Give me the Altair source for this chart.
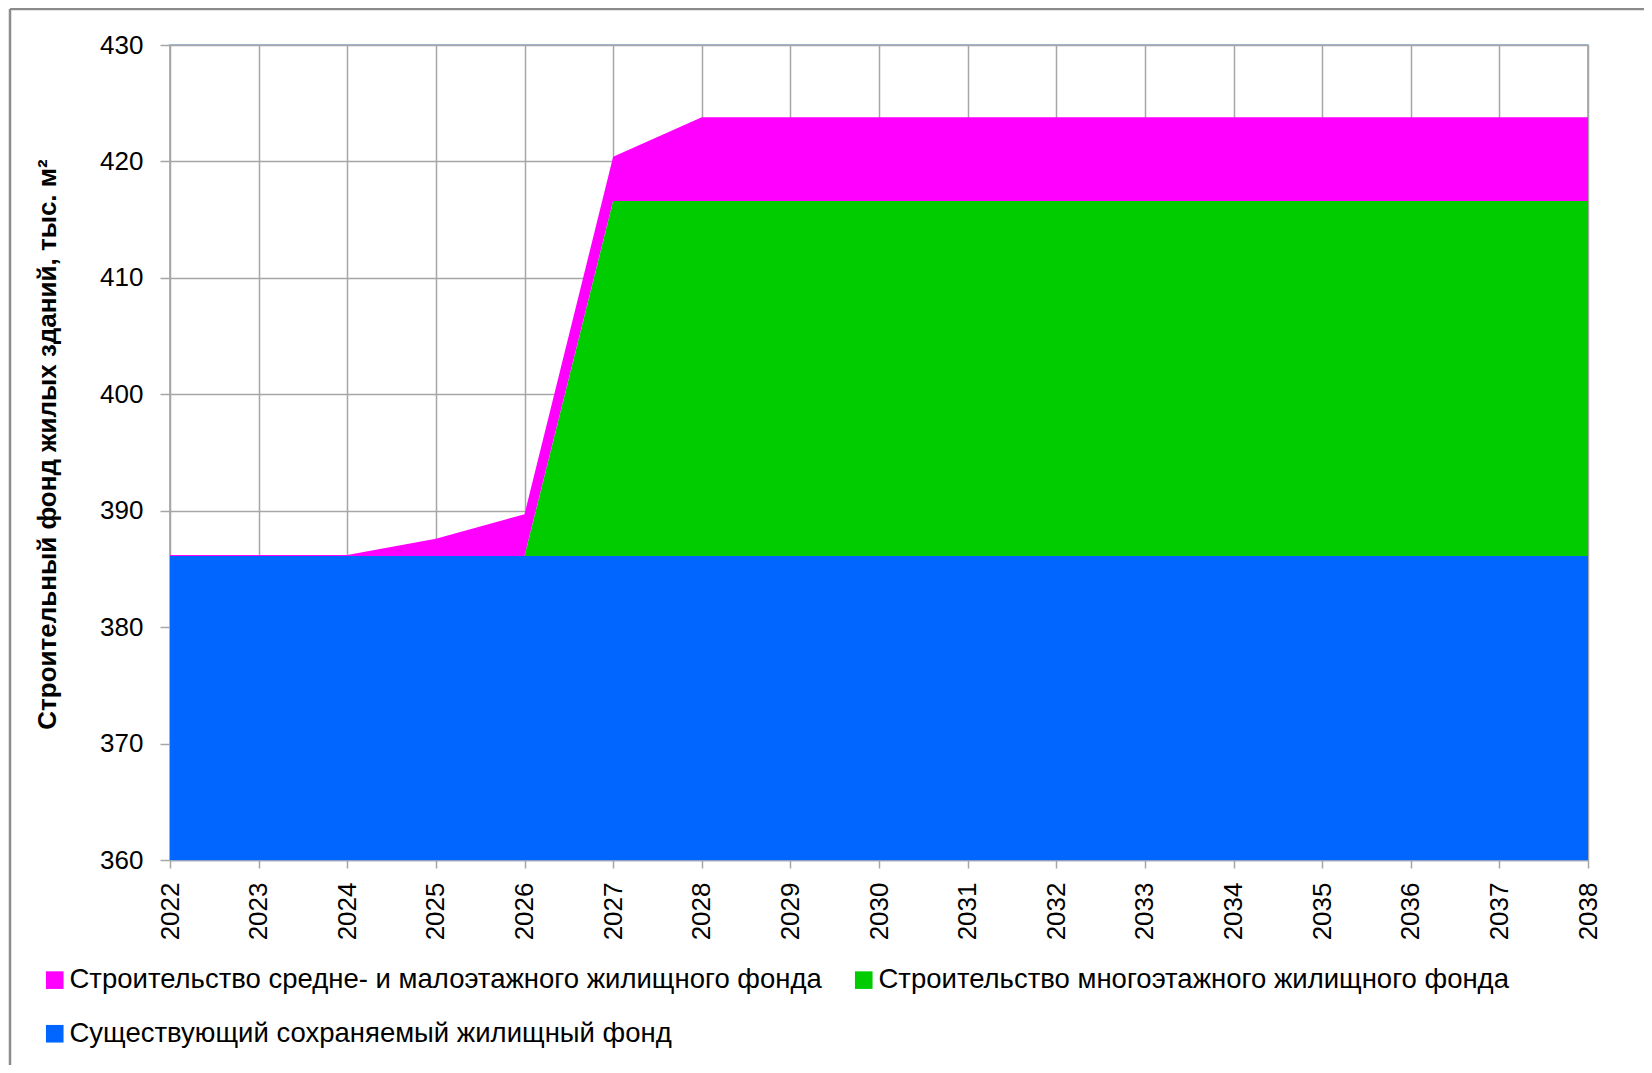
import altair as alt
import pandas as pd

years = list(range(2022, 2039))
existing = [386.1] * 17
multi_storey = [0, 0, 0, 0, 0, 30.5, 30.5, 30.5, 30.5, 30.5, 30.5, 30.5, 30.5, 30.5, 30.5, 30.5, 30.5]
mid_low = [0.1, 0.1, 0.1, 1.5, 3.6, 3.8, 7.2, 7.2, 7.2, 7.2, 7.2, 7.2, 7.2, 7.2, 7.2, 7.2, 7.2]

series_names = [
    "Строительство средне- и малоэтажного жилищного фонда",
    "Строительство многоэтажного жилищного фонда",
    "Существующий сохраняемый жилищный фонд",
]
series_colors = ["#FF00FF", "#00CC00", "#0066FF"]
stack_rank = [3, 2, 1]
y_ticks = [360, 370, 380, 390, 400, 410, 420, 430]
y_title = "Строительный фонд жилых зданий, тыс. м²"

rows = []
for name, vals, rank in zip(series_names, [mid_low, multi_storey, existing], stack_rank):
    for yr, v in zip(years, vals):
        rows.append({"year": yr, "value": v, "series": name, "ord": rank})
df = pd.DataFrame(rows)

FONT = "Liberation Sans"

area = alt.Chart(df).mark_area(clip=True, opacity=1).encode(
    x=alt.X(
        "year:Q",
        scale=alt.Scale(domain=[years[0], years[-1]], nice=False, zero=False),
        axis=alt.Axis(
            values=years, format="d", labelAngle=270, title=None, grid=True,
            tickSize=8, labelPadding=14, labelFontSize=26, labelFont=FONT,
            labelColor="#000000", gridColor="#A6A6A6", gridWidth=1.5,
            tickColor="#A6A6A6", tickWidth=1.5, domainColor="#8FA3C0", domainWidth=1.5,
        ),
    ),
    y=alt.Y(
        "value:Q",
        stack="zero",
        scale=alt.Scale(domain=[y_ticks[0], y_ticks[-1]], nice=False, zero=False),
        axis=alt.Axis(
            values=y_ticks, title=y_title, grid=True, domain=False,
            tickSize=10, labelPadding=17, labelFontSize=26, labelFont=FONT,
            labelColor="#000000", gridColor="#A6A6A6", gridWidth=1.5,
            tickColor="#A6A6A6", tickWidth=1.5,
            titleFont=FONT, titleFontSize=26, titleFontWeight="bold", titleColor="#000000",
            titleAngle=270, titleX=-123, titleY=399, titleBaseline="middle",
        ),
    ),
    color=alt.Color(
        "series:N",
        scale=alt.Scale(domain=series_names, range=series_colors),
        legend=alt.Legend(
            title=None, orient="none", legendX=-129, legendY=921, columns=2,
            direction="horizontal", symbolType="square", symbolSize=310,
            symbolStrokeWidth=0, symbolOpacity=1, labelFontSize=27.5, labelFont=FONT,
            labelColor="#000000", labelOffset=1, rowPadding=25, columnPadding=28,
            labelLimit=2000,
        ),
    ),
    order=alt.Order("ord:Q"),
)

frame_df = pd.DataFrame({"a": [0]})
frame_top = alt.Chart(frame_df).mark_rule(color="#8C8C8C", strokeWidth=2.5).encode(
    x=alt.value(-160), x2=alt.value(1600), y=alt.value(-36)
)
frame_left = alt.Chart(frame_df).mark_rule(color="#8C8C8C", strokeWidth=2.5).encode(
    x=alt.value(-160), y=alt.value(-36), y2=alt.value(1100)
)

chart = alt.layer(area, frame_top, frame_left).properties(
    width=1418,
    height=815,
    autosize=alt.AutoSizeParams(type="none"),
    padding={"left": 162, "top": 37, "right": 56, "bottom": 205},
    background="#FFFFFF",
).configure_view(stroke="#7FA0D0", strokeWidth=1.5)

chart.save("out.html", embed_options={"renderer": "svg", "actions": False})
